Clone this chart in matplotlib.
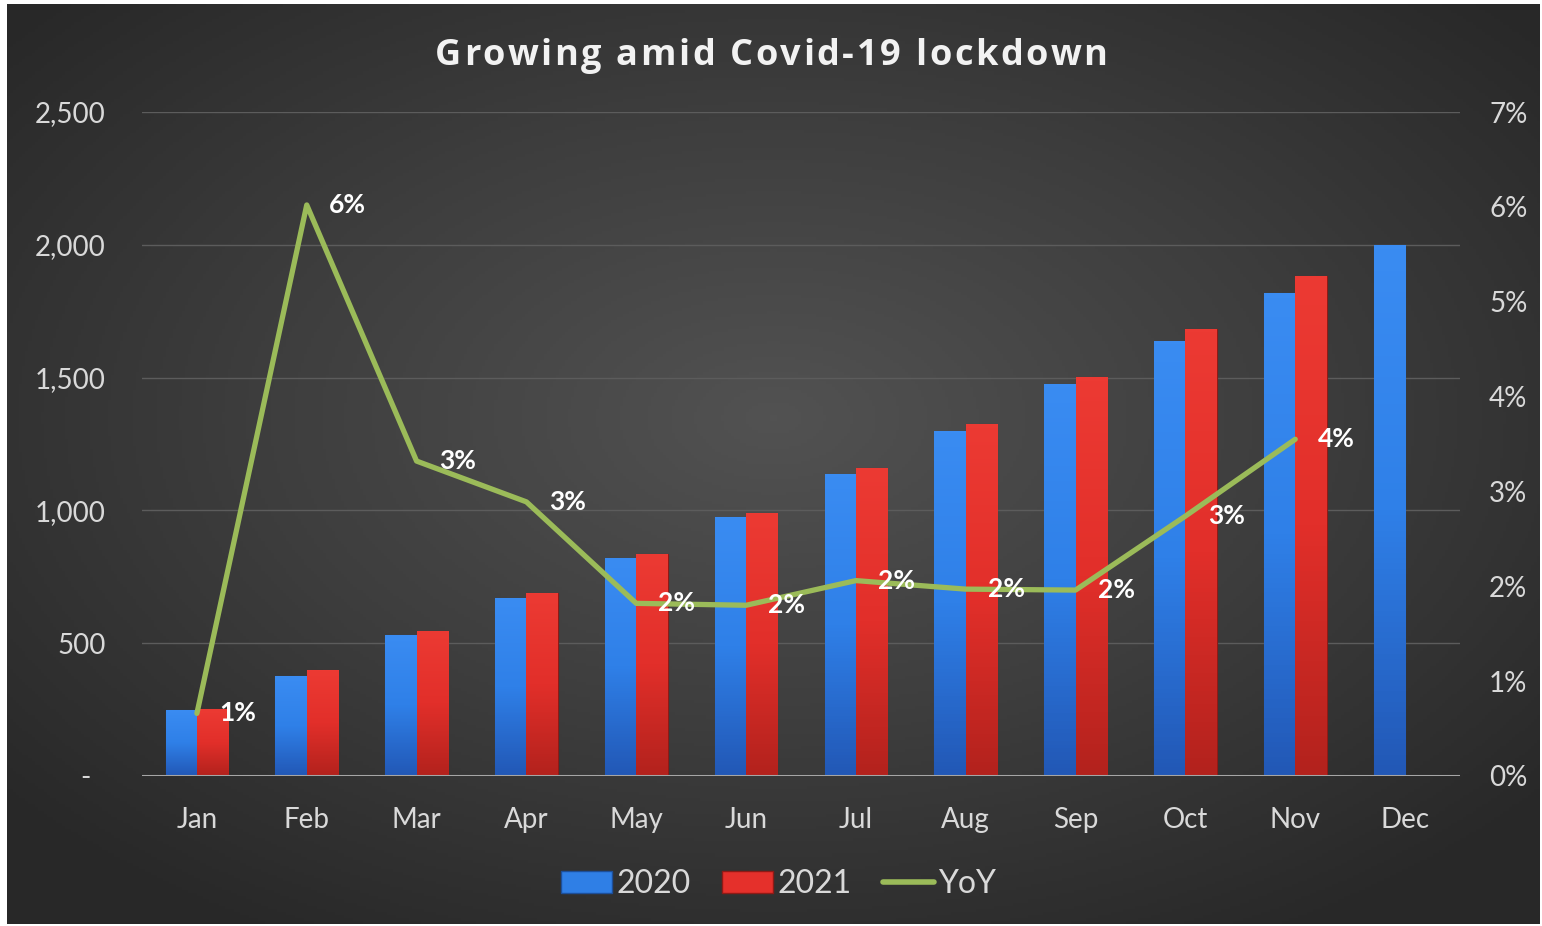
import numpy as np
import matplotlib
matplotlib.use("Agg")
import matplotlib.pyplot as plt
from matplotlib.patches import Patch
from matplotlib.lines import Line2D
from matplotlib.colors import LinearSegmentedColormap
from matplotlib.font_manager import FontProperties

months = ["Jan", "Feb", "Mar", "Apr", "May", "Jun", "Jul", "Aug", "Sep", "Oct", "Nov", "Dec"]
sales_2020 = [250, 376, 531, 670, 821, 975, 1137, 1299, 1476, 1638, 1818, 2000]
sales_2021 = [252, 399, 546, 689, 836, 990, 1160, 1325, 1502, 1683, 1883]
yoy = [0.66, 6.02, 3.32, 2.89, 1.82, 1.80, 2.06, 1.97, 1.96, 2.74, 3.55]

left_ticks = [0, 500, 1000, 1500, 2000, 2500]
left_labels = ["-  ", "500", "1,000", "1,500", "2,000", "2,500"]
right_ticks = [0, 1, 2, 3, 4, 5, 6, 7]
title = "Growing amid Covid-19 lockdown"

font = "Lato"
txt = "#d9d9d9"

fig = plt.figure(figsize=(15.42, 9.26), dpi=100)
fig.patch.set_facecolor("white")

# dark radial background
bg = fig.add_axes([7 / 1542, 2 / 926, 1533 / 1542, 920 / 926])
bg.set_axis_off()
yy, xx = np.mgrid[-1:1:300j, -1:1:500j]
r = np.sqrt((xx * 0.95) ** 2 + ((yy + 0.1) * 0.95) ** 2)
bgmap = LinearSegmentedColormap.from_list("bg", ["#525252", "#3e3e3e", "#282828"])
bg.imshow(r, cmap=bgmap, aspect="auto", extent=[0, 1, 0, 1], vmin=0, vmax=1.25)
bg.set_xlim(0, 1)
bg.set_ylim(0, 1)

ax = fig.add_axes([142 / 1542, 150 / 926, 1318 / 1542, 664 / 926])
ax.set_facecolor("none")
x = np.arange(len(months))
w = 0.285

b1 = ax.bar(x - w / 2, sales_2020, width=w, color="#2f7fe6", edgecolor="#1d4f9a", linewidth=0.8, zorder=2)
b2 = ax.bar(x[:len(sales_2021)] + w / 2, sales_2021, width=w, color="#e5302b", edgecolor="#8f1a16", linewidth=0.8, zorder=2)

# vertical gradient fill on bars
grad = np.linspace(1, 0, 100).reshape(-1, 1)
blue_map = LinearSegmentedColormap.from_list("b", ["#2258b6", "#2f80e8", "#3a8cf2"])
red_map = LinearSegmentedColormap.from_list("r", ["#b3221d", "#e22f2a", "#ec3a33"])
for bars, cmap in [(b1, blue_map), (b2, red_map)]:
    for p in bars:
        bx, by = p.get_x(), p.get_y()
        im = ax.imshow(grad, cmap=cmap, aspect="auto", zorder=2.1,
                       extent=[bx, bx + p.get_width(), by, by + p.get_height()])
        im.set_clip_path(p)

ax.set_xlim(-0.5, 11.5)
ax.set_ylim(0, 2500)
ax.set_yticks(left_ticks)
ax.set_yticklabels(left_labels)
ax.set_xticks(x)
ax.set_xticklabels(months)
ax.tick_params(axis="both", length=0, colors=txt, labelsize=20)
ax.tick_params(axis="x", pad=22)
ax.tick_params(axis="y", pad=26)
for lab in ax.get_xticklabels() + ax.get_yticklabels():
    lab.set_fontfamily(font)
for s in ax.spines.values():
    s.set_visible(False)
for t in left_ticks[1:]:
    ax.axhline(t, color="#5c5c5c", linewidth=1, zorder=1)
ax.axhline(0, color="#a6a6a6", linewidth=2.2, zorder=3)

ax2 = ax.twinx()
ax2.set_ylim(0, 7)
ax2.set_yticks(right_ticks)
ax2.set_yticklabels([f"{t}%" for t in right_ticks])
ax2.tick_params(axis="y", length=0, colors=txt, labelsize=20, pad=21)
for lab in ax2.get_yticklabels():
    lab.set_fontfamily(font)
for s in ax2.spines.values():
    s.set_visible(False)

ax2.plot(x[:len(yoy)], yoy, color="#9bbb59", linewidth=3.8, solid_capstyle="round",
         solid_joinstyle="round", zorder=4)
for xi, v in zip(x, yoy):
    ax2.annotate(f"{v:.0f}%", (xi, v), xytext=(16, 0), textcoords="offset points",
                 ha="left", va="center", color="white", fontsize=19, fontweight="bold",
                 fontfamily=font, zorder=5)

# title with a bit of letter spacing
tprop = FontProperties(family="Open Sans", weight="bold", size=26)
rend = fig.canvas.get_renderer()
W = fig.bbox.width
def tw(s):
    return rend.get_text_width_height_descent(s, tprop, ismath=False)[0]
spacing = 2.7
total = tw(title) + spacing * (len(title) - 1)
x0 = W / 2 - total / 2
for i, ch in enumerate(title):
    if ch == " ":
        continue
    off = tw(title[:i] + "|") - tw("|") if i > 0 else 0
    fig.text((x0 + off + spacing * i) / W, 1 - 65 / 926, ch, ha="left", va="baseline",
             color="#f2f2f2", fontproperties=tprop)

handles = [Patch(facecolor="#2f7fe6", edgecolor="#1d4f9a"),
           Patch(facecolor="#e5302b", edgecolor="#8f1a16"),
           Line2D([0], [0], color="#9bbb59", linewidth=4, solid_capstyle="round")]
leg = fig.legend(handles, ["2020", "2021", "YoY"], loc="center", bbox_to_anchor=(0.505, 1 - 884 / 926),
                 ncol=3, frameon=False, handlelength=1.6, handleheight=0.7, handletextpad=0.12,
                 columnspacing=1.0, prop={"family": font, "size": 23})
for t in leg.get_texts():
    t.set_color(txt)

fig.savefig("out.png", dpi=100, facecolor=fig.get_facecolor())
